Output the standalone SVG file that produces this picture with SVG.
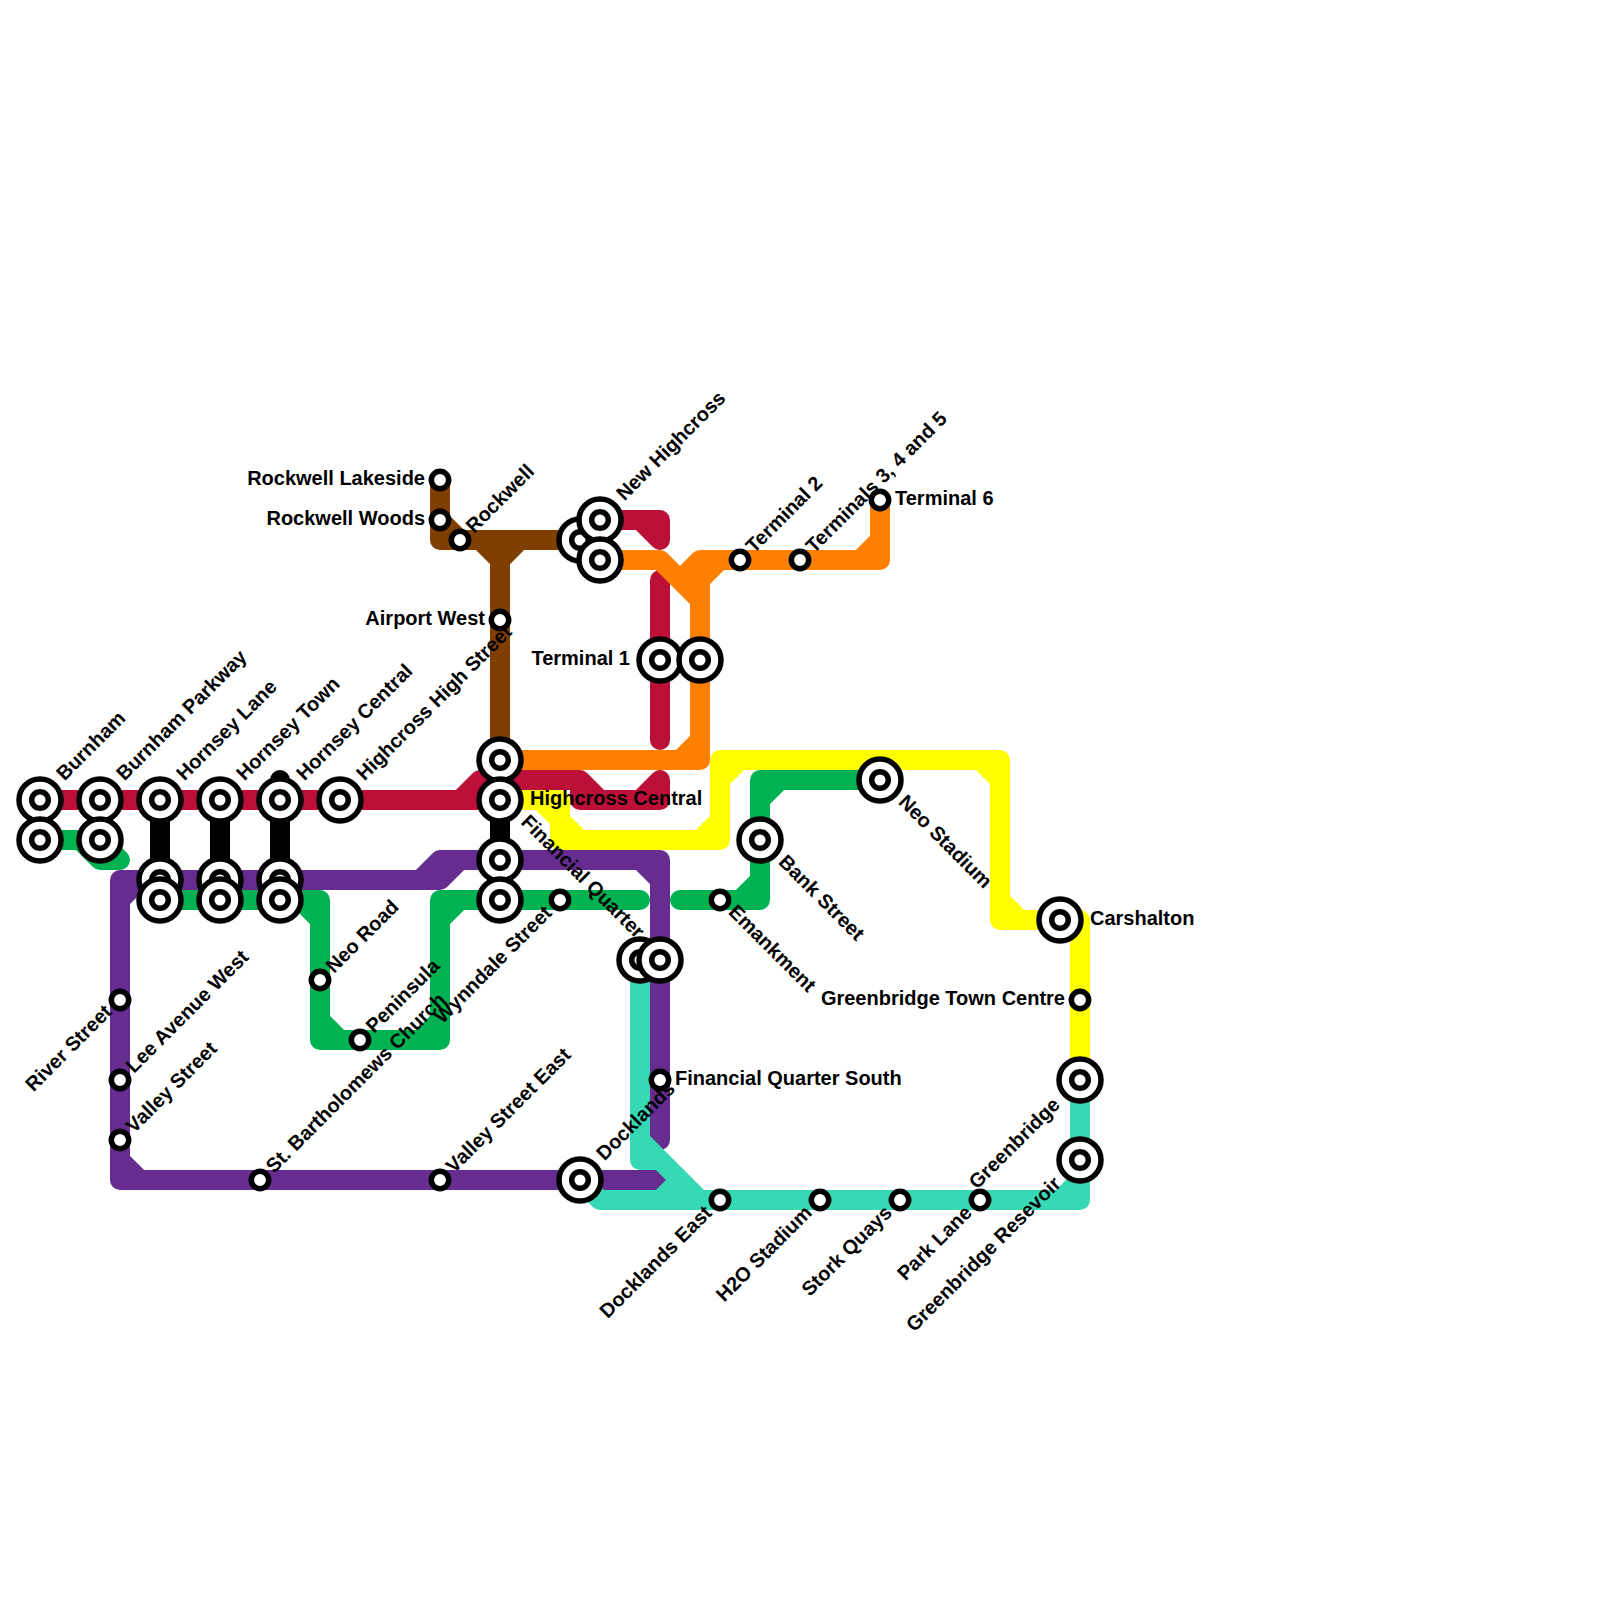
<svg xmlns="http://www.w3.org/2000/svg" width="1600" height="1600" viewBox="0 0 1600 1600">
<style>
.l{fill:none;stroke-width:20;stroke-linecap:round;stroke-linejoin:round}
.o{fill:#fff;stroke:#000;stroke-width:5.5}
text{font-family:"Liberation Sans",Arial,sans-serif;font-size:20px;font-weight:700;fill:#000}
.e{text-anchor:end}
</style>
<defs>
<g id="big"><circle class="o" r="21"/><circle class="o" r="8.3"/></g>
<circle id="small" class="o" r="8.7"/>
</defs>
<rect width="1600" height="1600" fill="#fff"/>
<g id="connectors">
<path class="l" stroke="#bd1038" d="M40 800H480V780H580V800H660V780M460 800L480 780M580 780L600 800M640 800L660 780M480 800H500M600 520H660V540M640 520L660 540M660 580V740"/>
<path class="l" stroke="#7f3f00" d="M440 480V540H580M440 520L460 540M500 540V760M480 540L500 560L520 540"/>
<path class="l" stroke="#ff8000" d="M600 560H660L700 600V760H500M680 760L700 740M680 580L700 560H880V500M700 560V600M720 560L700 580M860 560L880 540"/>
<path class="l" stroke="#00b251" d="M40 840H100V860H120M80 840L100 860M100 840L120 860M160 900H320V1040H440V900H640M300 900L320 920M320 1020L340 1040M420 1040L440 1020M440 920L460 900M680 900H760V780H880M740 900L760 880M780 780L760 800"/>
<path class="l" stroke="#662c90" d="M120 880H440V860H660V1140M120 880V1180H660M140 880L120 900M120 1160L140 1180M420 880L440 860M440 880L460 860M640 860L660 880"/>
<path class="l" stroke="#35dab5" d="M640 960V1160H660M640 1140L700 1200M660 1200L680 1180M580 1180L600 1200H1080V1080M1060 1200L1080 1180"/>
<path class="l" stroke="#ff0" d="M500 800H560V840H720V760H1000V920H1080V1080M540 800L560 820M560 820L580 840M700 840L720 820M740 760L720 780M980 760L1000 780M1000 900L1020 920"/>
<path class="l" stroke="#000" d="M160 800V880M220 800V880M280 780V880M500 800V860"/>
</g>
<g id="burnham"><use href="#big" x="40" y="800"/><text transform="translate(64.5 781.5) rotate(-45)">Burnham</text></g>
<g id="burnham-2"><use href="#big" x="40" y="840"/></g>
<g id="burnham-parkway"><use href="#big" x="100" y="800"/><text transform="translate(124.5 781.5) rotate(-45)">Burnham Parkway</text></g>
<g id="burnham-parkway-2"><use href="#big" x="100" y="840"/></g>
<g id="hornsey-lane"><use href="#big" x="160" y="800"/><text transform="translate(184.5 781.5) rotate(-45)">Hornsey Lane</text></g>
<g id="hornsey-lane-2"><use href="#big" x="160" y="880"/></g>
<g id="hornsey-lane-3"><use href="#big" x="160" y="900"/></g>
<g id="hornsey-town"><use href="#big" x="220" y="800"/><text transform="translate(244.5 781.5) rotate(-45)">Hornsey Town</text></g>
<g id="hornsey-town-2"><use href="#big" x="220" y="880"/></g>
<g id="hornsey-town-3"><use href="#big" x="220" y="900"/></g>
<g id="hornsey-central"><use href="#big" x="280" y="800"/><text transform="translate(304.5 781.5) rotate(-45)">Hornsey Central</text></g>
<g id="hornsey-central-2"><use href="#big" x="280" y="880"/></g>
<g id="hornsey-central-3"><use href="#big" x="280" y="900"/></g>
<g id="highcross-high-street"><use href="#big" x="340" y="800"/><text transform="translate(364.5 781.5) rotate(-45)">Highcross High Street</text></g>
<g id="rockwell-lakeside"><use href="#small" x="440" y="480"/><text class="e" x="425" y="485">Rockwell Lakeside</text></g>
<g id="rockwell-woods"><use href="#small" x="440" y="520"/><text class="e" x="425" y="525">Rockwell Woods</text></g>
<g id="rockwell"><use href="#small" x="460" y="540"/><text transform="translate(474 534) rotate(-45)">Rockwell</text></g>
<g id="airport-west"><use href="#small" x="500" y="620"/><text class="e" x="485" y="625">Airport West</text></g>
<g id="rockwell-east"><use href="#big" x="580" y="540"/></g>
<g id="new-highcross"><use href="#big" x="600" y="520"/><text transform="translate(624.5 501.5) rotate(-45)">New Highcross</text></g>
<g id="new-highcross-2"><use href="#big" x="600" y="560"/></g>
<g id="terminal-1"><use href="#big" x="660" y="660"/><text class="e" x="630" y="665">Terminal 1</text></g>
<g id="terminal-1-2"><use href="#big" x="700" y="660"/></g>
<g id="terminal-2"><use href="#small" x="740" y="560"/><text transform="translate(754 554) rotate(-45)">Terminal 2</text></g>
<g id="terminals-3-4-5"><use href="#small" x="800" y="560"/><text transform="translate(814 554) rotate(-45)">Terminals 3, 4 and 5</text></g>
<g id="terminal-6"><use href="#small" x="880" y="500"/><text x="895" y="505">Terminal 6</text></g>
<g id="highcross-central-2"><use href="#big" x="500" y="760"/></g>
<g id="highcross-central"><use href="#big" x="500" y="800"/><text x="530" y="805">Highcross Central</text><text transform="translate(520 823) rotate(45)">Financial Quarter</text></g>
<g id="highcross-central-3"><use href="#big" x="500" y="860"/></g>
<g id="wynndale-west"><use href="#big" x="500" y="900"/></g>
<g id="wynndale-street"><use href="#small" x="560" y="900"/><text class="e" transform="translate(553 914) rotate(-45)">Wynndale Street</text></g>
<g id="financial-quarter"><use href="#big" x="640" y="960"/></g>
<g id="financial-quarter-2"><use href="#big" x="660" y="960"/></g>
<g id="emankment"><use href="#small" x="720" y="900"/><text transform="translate(727.5 913) rotate(45)">Emankment</text></g>
<g id="bank-street"><use href="#big" x="760" y="840"/><text transform="translate(777.5 863) rotate(45)">Bank Street</text></g>
<g id="neo-stadium"><use href="#big" x="880" y="780"/><text transform="translate(897.5 803) rotate(45)">Neo Stadium</text></g>
<g id="carshalton"><use href="#big" x="1060" y="920"/><text x="1090" y="925">Carshalton</text></g>
<g id="greenbridge-town-centre"><use href="#small" x="1080" y="1000"/><text class="e" x="1065" y="1005">Greenbridge Town Centre</text></g>
<g id="neo-road"><use href="#small" x="320" y="980"/><text transform="translate(334 974) rotate(-45)">Neo Road</text></g>
<g id="peninsula"><use href="#small" x="360" y="1040"/><text transform="translate(374 1034) rotate(-45)">Peninsula</text></g>
<g id="river-street"><use href="#small" x="120" y="1000"/><text class="e" transform="translate(113 1013) rotate(-45)">River Street</text></g>
<g id="lee-avenue-west"><use href="#small" x="120" y="1080"/><text transform="translate(134 1074) rotate(-45)">Lee Avenue West</text></g>
<g id="valley-street"><use href="#small" x="120" y="1140"/><text transform="translate(134 1134) rotate(-45)">Valley Street</text></g>
<g id="st-bartholomews-church"><use href="#small" x="260" y="1180"/><text transform="translate(274 1174) rotate(-45)">St. Bartholomews Church</text></g>
<g id="valley-street-east"><use href="#small" x="440" y="1180"/><text transform="translate(454 1174) rotate(-45)">Valley Street East</text></g>
<g id="docklands"><use href="#big" x="580" y="1180"/><text transform="translate(604.5 1161.5) rotate(-45)">Docklands</text></g>
<g id="financial-quarter-south"><use href="#small" x="660" y="1080"/><text x="675" y="1085">Financial Quarter South</text></g>
<g id="docklands-east"><use href="#small" x="720" y="1200"/><text class="e" transform="translate(713 1214) rotate(-45)">Docklands East</text></g>
<g id="h2o-stadium"><use href="#small" x="820" y="1200"/><text class="e" transform="translate(813 1214) rotate(-45)">H2O Stadium</text></g>
<g id="stork-quays"><use href="#small" x="900" y="1200"/><text class="e" transform="translate(893 1214) rotate(-45)">Stork Quays</text></g>
<g id="park-lane"><use href="#small" x="980" y="1200"/><text class="e" transform="translate(973 1214) rotate(-45)">Park Lane</text></g>
<g id="greenbridge"><use href="#big" x="1080" y="1080"/><text class="e" transform="translate(1061 1106) rotate(-45)">Greenbridge</text></g>
<g id="greenbridge-resevoir"><use href="#big" x="1080" y="1160"/><text class="e" transform="translate(1062 1185) rotate(-45)">Greenbridge Resevoir</text></g>
</svg>
